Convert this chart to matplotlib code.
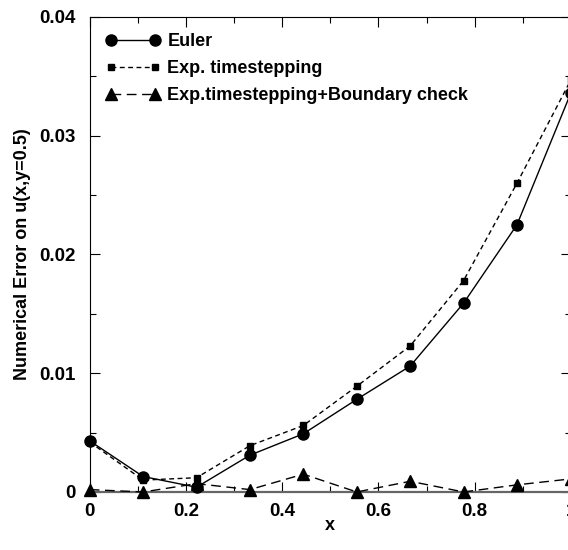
import matplotlib
matplotlib.use('Agg')
import matplotlib.pyplot as plt
from matplotlib.ticker import MultipleLocator, FuncFormatter

# grid points along y=0.5
x = [0.0, 0.111, 0.222, 0.333, 0.444, 0.555, 0.666, 0.777, 0.888, 1.0]
err_euler = [0.0043, 0.0013, 0.0004, 0.0031, 0.0049, 0.0078, 0.0106, 0.0159, 0.0225, 0.0336]
err_exp = [0.0042, 0.0010, 0.0012, 0.0039, 0.0056, 0.0089, 0.0123, 0.0178, 0.0260, 0.0347]
err_exp_bc = [0.0002, 0.0000, 0.0007, 0.0002, 0.0015, 0.0000, 0.0009, 0.0000, 0.0006, 0.0011]

plt.rcParams['font.family'] = ['Liberation Sans', 'DejaVu Sans']
plt.rcParams['font.weight'] = 'bold'

fig = plt.figure(figsize=(5.68, 5.5), dpi=100)
ax = fig.add_axes([0.158, 0.1055, 0.847, 0.8636])

ax.plot(x, err_euler, '-', color='k', marker='o', markersize=8,
        linewidth=1.0, label='Euler', clip_on=False, zorder=3)
ax.plot(x, err_exp, color='k', linestyle=(0, (3.5, 2.5)), marker='s',
        markersize=5, linewidth=1.0, label='Exp. timestepping',
        clip_on=False, zorder=3)
ax.plot(x, err_exp_bc, color='k', linestyle=(0, (7, 4)), marker='^',
        markersize=8, linewidth=1.0, label='Exp.timestepping+Boundary check',
        clip_on=False, zorder=3)

ax.set_xlim(0, 1)
ax.set_ylim(0, 0.04)
ax.xaxis.set_major_locator(MultipleLocator(0.2))
ax.xaxis.set_minor_locator(MultipleLocator(0.1))
ax.yaxis.set_major_locator(MultipleLocator(0.01))
ax.yaxis.set_minor_locator(MultipleLocator(0.005))
ax.xaxis.set_major_formatter(FuncFormatter(lambda v, p: f'{round(v, 3):g}'))
ax.yaxis.set_major_formatter(FuncFormatter(lambda v, p: f'{round(v, 4):g}'))

ax.spines['bottom'].set_color('0.4')
ax.spines['bottom'].set_linewidth(1.6)

ax.tick_params(which='both', direction='in', top=True, right=True,
               labelsize=13.5)
ax.tick_params(axis='x', pad=8)
ax.tick_params(axis='y', pad=10)
ax.tick_params(which='major', length=7, width=0.8)
ax.tick_params(which='minor', length=4, width=0.8)
for lbl in ax.get_xticklabels() + ax.get_yticklabels():
    lbl.set_fontweight('bold')

ax.set_xlabel('x', fontsize=13, fontweight='bold', labelpad=-2)
ax.set_ylabel('Numerical Error on u(x,y=0.5)', fontsize=13,
              fontweight='bold', labelpad=6)

ax.legend(loc='upper left', frameon=False, numpoints=2, handlelength=3.0,
          handletextpad=0.4, labelspacing=0.55, borderaxespad=0.5,
          prop={'weight': 'bold', 'size': 13})

fig.savefig('out.png', dpi=100)
